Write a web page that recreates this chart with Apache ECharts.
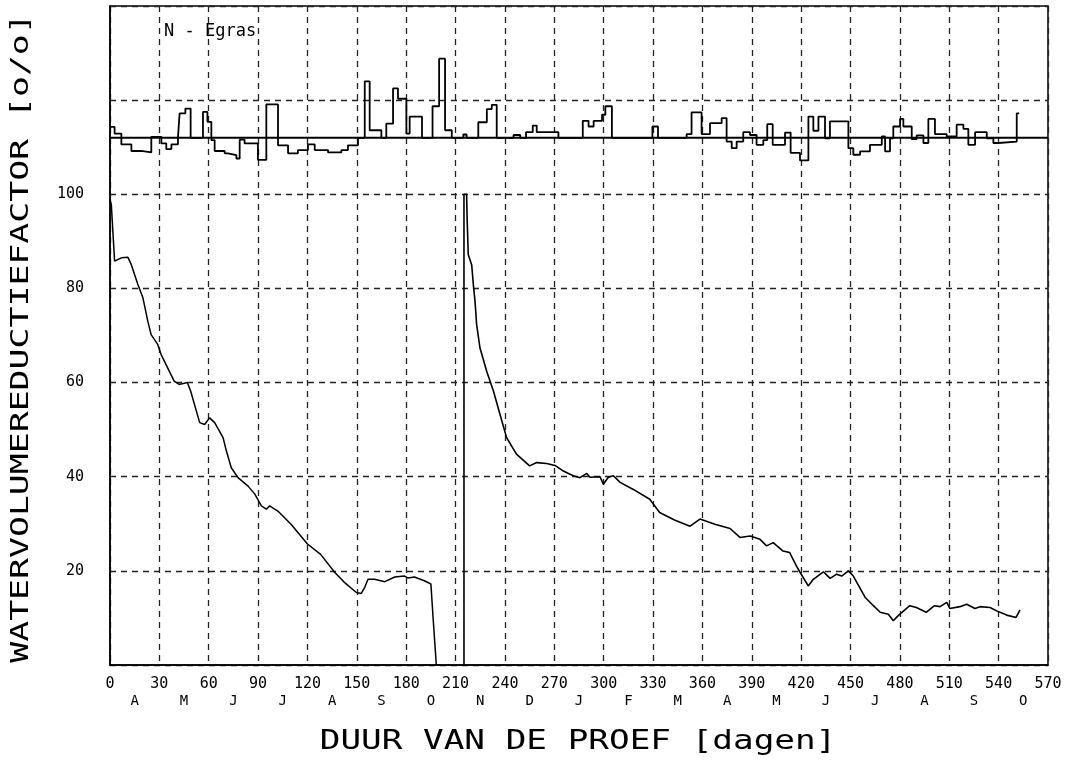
<!DOCTYPE html>
<html>
<head>
<meta charset="utf-8">
<script src="https://cdn.jsdelivr.net/npm/echarts@6/dist/echarts.min.js"></script>
<style>
html,body{margin:0;padding:0;background:#fff;}
#chart{width:1074px;height:765px;}
</style>
</head>
<body>
<div id="chart"></div>
<script>
// ---- data ----
const xTicks = [0,30,60,90,120,150,180,210,240,270,300,330,360,390,420,450,480,510,540,570];
const months = ['A','M','J','J','A','S','O','N','D','J','F','M','A','M','J','J','A','S','O'];
const yTickLabels = [20,40,60,80,100];

// first decline curve (day, reduction factor %)
const days1 = [0,0.8,2.8,6.9,10.9,12.9,17,20,23,25,29,31,39,42,47,49,54.5,57.5,60.5,63.6,68.7,70.7,73.7,77.8,83.9,88,92,95,97,102,110,120,128,136.5,142.6,149.7,152.7,154.8,156.8,160.8,167,173,179,181,185,191,195,196.3,198.3];
const vals1 = [99,97.8,85.8,86.5,86.6,85.1,80.8,78,73,70.2,68.1,66,60.3,59.6,60,58.2,51.5,51.1,52.5,51.5,48.3,45.5,41.9,39.8,38,36.3,33.8,33.1,33.8,32.7,29.9,25.7,23.5,19.7,17.5,15.4,15.2,16.5,18.2,18.2,17.7,18.7,18.9,18.5,18.7,17.9,17.2,10.2,0];

// second decline curve
const days2 = [215.1,215.1,216.7,217,217.7,219.8,220.8,221.8,222.8,224.8,228.9,233,237,241,247,255,259.3,265.4,270.4,275.5,281.5,285.6,289.7,291.7,297.8,299.8,302.8,305.9,310,318,328,334,343,352.5,358.5,367.6,376.8,382.8,389,395,399,403,409,413,417,419.3,424.3,427.4,433.5,437.6,441.6,444.6,448.7,451.7,458.8,463.9,468,473,476,479,486,490,496,501,504.4,508.5,510.4,516.5,520.6,525.6,528.7,534.8,538.8,544.9,550.6,553];
const vals2 = [0,100,100,95,87.2,85,80.8,77.3,72.3,67.4,62.4,58.2,53.2,48.3,44.8,42.3,43,42.8,42.4,41.2,40.2,39.8,40.7,39.9,40,38.4,39.9,40.2,38.8,37.3,35.2,32.4,30.8,29.5,31,29.9,29.0,27.1,27.4,26.7,25.3,26,24.2,23.9,21.1,19.7,16.8,18.2,19.8,18.4,19.3,18.9,20,18.9,14.4,12.6,11.2,10.8,9.4,10.5,12.6,12.2,11.2,12.6,12.4,13.3,12,12.4,12.9,12,12.4,12.2,11.5,10.6,10.1,11.7];

// N - Egras step trace (value holds from each day until the next)
const stepDays = [0,2.8,6.9,13.0,19.0,25.1,31.2,34.2,37.3,41.3,42.3,45.8,49.0,56.5,59.2,61.6,63.6,69.7,71.7,76.8,78.8,81.8,89.9,95.0,102.1,108.2,114.2,120.3,124.4,132.5,140.6,144.6,150.7,154.8,157.8,164.9,167.9,172.0,175.0,180.1,182.1,189.6,196.0,200.0,203.6,207.7,214.7,216.7,223.8,229.0,232.0,235.0,245.2,249.3,252.8,256.9,259.3,272.5,287.3,290.8,293.9,299.0,301.0,305.0,329.6,333.0,350.4,353.4,359.5,364.6,371.7,374.7,377.8,380.8,384.8,388.9,392.9,397.0,399.4,402.7,410.2,413.6,419.3,424.4,427.4,430.5,434.5,437.5,448.7,451.7,455.8,461.8,469.0,471.0,474.0,476.0,480.1,482.1,487.2,490.2,494.3,497.3,501.3,508.4,514.5,518.6,521.6,525.7,532.8,536.8,539.8,551.0,552.5];
const stepVals = [114.3,112.9,110.6,109.2,108.9,112.2,110.8,109.6,110.6,112.0,117.2,118.2,112.0,117.5,115.4,111.5,109.2,108.7,108.3,107.6,111.6,110.8,107.3,119.1,110.4,108.7,109.4,110.6,109.4,108.9,109.4,110.4,112.0,124.0,113.6,112.0,115.0,122.5,120.3,112.9,116.5,112.0,118.7,128.8,113.6,112.0,112.7,112.0,115.3,118.1,119.0,112.0,112.6,112.0,113.2,114.6,113.2,112.0,115.6,114.4,115.6,116.9,118.7,112.0,114.4,112.0,112.8,117.4,112.8,115.1,116.2,111.2,109.8,111.2,113.2,112.6,110.5,111.5,114.9,110.5,113.1,108.8,107.2,116.5,113.5,116.5,111.9,115.5,109.8,108.4,109.1,110.5,112.3,109.1,111.9,114.4,116.0,114.4,111.7,112.5,110.9,116.0,112.8,112.3,114.8,113.9,110.5,113.2,111.9,110.9,111.2,117.2,117.2];
const stepBaseline = 112;

const yTitle = 'WATERVOLUMEREDUCTIEFACTOR [o/o]';
const xTitle = 'DUUR VAN DE PROEF [dagen]';
const panelLabel = 'N - Egras';

// ---- chart ----
const FONT = '"DejaVu Sans Mono", monospace';
const zip = (a, b) => a.map((d, i) => [d, b[i]]);
const chart = echarts.init(document.getElementById('chart'), null, {renderer: 'canvas'});
const dashed = {show: true, lineStyle: {type: [6, 5], color: '#222', width: 1.3}};

chart.setOption({
  animation: false,
  backgroundColor: '#fff',
  grid: {left: 110, right: 26, top: 6, bottom: 100, show: true, borderColor: '#000', borderWidth: 1.5, backgroundColor: 'transparent'},
  xAxis: [
    {
      type: 'value', min: xTicks[0], max: xTicks[xTicks.length - 1], interval: 30,
      axisLine: {show: true, lineStyle: {color: '#000', width: 1.5}},
      axisTick: {show: false},
      splitLine: dashed,
      axisLabel: {color: '#000', fontFamily: FONT, fontSize: 15, margin: 12, showMinLabel: true, showMaxLabel: true,
        formatter: v => xTicks.includes(v) ? String(v) : ''}
    },
    {
      type: 'category', data: months, position: 'bottom', offset: 17, boundaryGap: true,
      axisLine: {show: false}, axisTick: {show: false}, splitLine: {show: false},
      axisLabel: {interval: 0, color: '#000', fontFamily: FONT, fontSize: 14, margin: 12}
    }
  ],
  yAxis: {
    type: 'value', min: 0, max: 140, interval: 20,
    axisLine: {show: true, lineStyle: {color: '#000', width: 1.5}},
    axisTick: {show: false},
    splitLine: dashed,
    axisLabel: {color: '#000', fontFamily: FONT, fontSize: 15, margin: 26,
      formatter: v => yTickLabels.includes(v) ? String(v) : ''}
  },
  series: [
    {type: 'line', name: 'decline1', data: zip(days1, vals1), symbol: 'none', lineStyle: {color: '#000', width: 1.5}, z: 5},
    {type: 'line', name: 'decline2', data: zip(days2, vals2), symbol: 'none', lineStyle: {color: '#000', width: 1.6}, z: 5},
    {type: 'line', name: 'baseline', data: [[xTicks[0], stepBaseline], [xTicks[xTicks.length - 1], stepBaseline]], symbol: 'none', lineStyle: {color: '#000', width: 2}, z: 4},
    {type: 'line', name: 'N - Egras', step: 'end', data: zip(stepDays, stepVals), symbol: 'none', lineStyle: {color: '#000', width: 1.8}, z: 6}
  ],
  graphic: [
    {type: 'text', x: 22, y: 338, rotation: Math.PI / 2, scaleX: 1.45, scaleY: 1,
      style: {text: yTitle, fontFamily: FONT, fontSize: 24, fill: '#000', align: 'center', verticalAlign: 'middle', textAlign: 'center', textVerticalAlign: 'middle'}},
    {type: 'text', x: 578, y: 742, scaleX: 1.32, scaleY: 1,
      style: {text: xTitle, fontFamily: FONT, fontSize: 26, fill: '#000', align: 'center', verticalAlign: 'middle', textAlign: 'center', textVerticalAlign: 'middle'}},
    {type: 'text', x: 164, y: 32,
      style: {text: panelLabel, fontFamily: FONT, fontSize: 17, fill: '#000', align: 'left', verticalAlign: 'middle', textAlign: 'left', textVerticalAlign: 'middle'}}
  ]
});
</script>
</body>
</html>
